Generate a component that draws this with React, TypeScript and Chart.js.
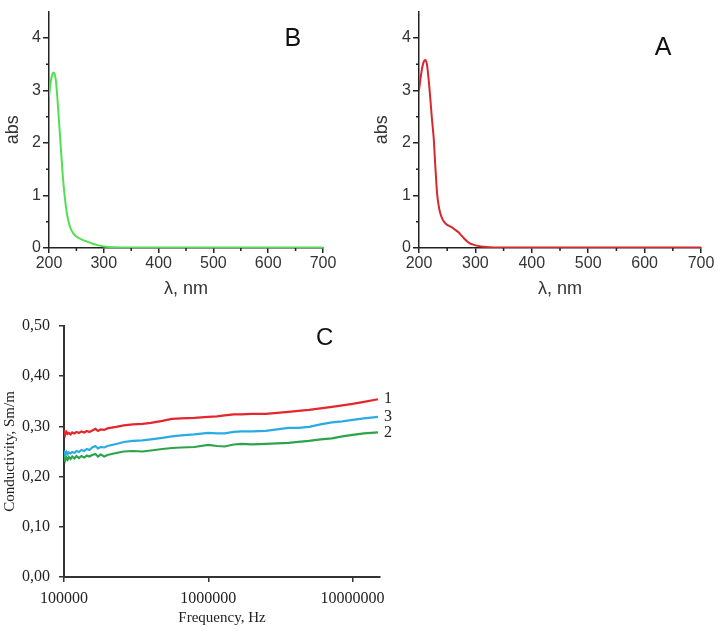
import React, { useEffect, useRef } from 'react';
import { Chart, registerables } from 'chart.js';
Chart.register(...registerables);

// ---------- Data ----------
const wavelengthB = [200, 203, 206, 208, 210, 213, 216, 219, 222, 225, 228, 231, 234, 237, 240, 245, 250, 260, 270, 280, 290, 300, 310, 320, 340, 360, 400, 450, 500, 550, 600, 650, 700];
const absB = [2.88, 3.15, 3.3, 3.34, 3.32, 3.15, 2.75, 2.3, 1.85, 1.4, 1.05, 0.78, 0.58, 0.45, 0.36, 0.27, 0.22, 0.16, 0.12, 0.08, 0.05, 0.03, 0.02, 0.015, 0.01, 0.01, 0.008, 0.008, 0.008, 0.008, 0.01, 0.01, 0.01];

const wavelengthA = [200, 203, 206, 209, 211, 214, 217, 220, 223, 226, 229, 232, 235, 238, 242, 246, 250, 255, 260, 265, 270, 275, 280, 285, 290, 295, 300, 310, 320, 340, 360, 400, 450, 500, 550, 600, 650, 700];
const absA = [3.0, 3.25, 3.45, 3.56, 3.58, 3.5, 3.22, 2.85, 2.45, 2.1, 1.55, 1.05, 0.8, 0.65, 0.54, 0.48, 0.44, 0.41, 0.38, 0.34, 0.3, 0.24, 0.18, 0.13, 0.09, 0.07, 0.05, 0.03, 0.02, 0.01, 0.01, 0.008, 0.008, 0.008, 0.008, 0.01, 0.01, 0.01];

const frequencyC = [100000, 102000, 104000, 106000, 108000, 111000, 114000, 118000, 122000, 127000, 132000, 138000, 144000, 150000, 157000, 165000, 172000, 180000, 190000, 200000, 230000, 260000, 300000, 350000, 400000, 480000, 560000, 650000, 800000, 1000000, 1150000, 1300000, 1500000, 1700000, 2000000, 2500000, 3000000, 3600000, 4200000, 5000000, 6000000, 7200000, 8500000, 10000000, 12000000, 15000000];
const conductivity1 = [0.293, 0.283, 0.289, 0.285, 0.287, 0.284, 0.288, 0.286, 0.289, 0.287, 0.29, 0.288, 0.291, 0.289, 0.292, 0.295, 0.291, 0.294, 0.293, 0.296, 0.299, 0.302, 0.304, 0.305, 0.307, 0.311, 0.315, 0.316, 0.317, 0.319, 0.32, 0.322, 0.324, 0.324, 0.325, 0.325, 0.327, 0.329, 0.331, 0.333, 0.336, 0.339, 0.342, 0.345, 0.349, 0.354];
const conductivity3 = [0.252, 0.243, 0.249, 0.245, 0.248, 0.246, 0.249, 0.247, 0.251, 0.249, 0.253, 0.251, 0.255, 0.253, 0.258, 0.261, 0.256, 0.259, 0.258, 0.261, 0.265, 0.269, 0.271, 0.272, 0.274, 0.277, 0.28, 0.282, 0.284, 0.287, 0.286, 0.286, 0.289, 0.29, 0.29, 0.291, 0.294, 0.297, 0.297, 0.299, 0.304, 0.308, 0.31, 0.313, 0.316, 0.319];
const conductivity2 = [0.241, 0.232, 0.238, 0.234, 0.239, 0.235, 0.24, 0.236, 0.241, 0.237, 0.241, 0.238, 0.242, 0.24, 0.243, 0.245, 0.24, 0.244, 0.24, 0.243, 0.247, 0.25, 0.251, 0.25, 0.252, 0.255, 0.257, 0.258, 0.259, 0.263, 0.261, 0.26, 0.264, 0.265, 0.264, 0.265, 0.266, 0.267, 0.269, 0.271, 0.274, 0.276, 0.28, 0.283, 0.286, 0.288];
const seriesLabelsC = ['1', '3', '2'];

const spectrumXTicks = [200, 300, 400, 500, 600, 700];
const spectrumXMinor = [250, 350, 450, 550, 650];
const spectrumYTicks = [0, 1, 2, 3, 4];
const spectrumYMinor = [0.5, 1.5, 2.5, 3.5];
const frequencyTicks = [100000, 1000000, 10000000];
const conductivityTicks = [0, 0.1, 0.2, 0.3, 0.4, 0.5];

const panelB = { text: 'B', x: 645, y: 3.98 };
const panelA = { text: 'A', x: 633, y: 3.81 };
const panelC = { text: 'C', x: 6400000, y: 0.476 };

const SANS = '"Liberation Sans", Arial, sans-serif';
const SERIF = '"Liberation Serif", "Times New Roman", serif';

// ---------- Plugins ----------
const minorTicksPlugin = (xMinor: number[], yMinor: number[], len: number, color: string, width: number) => ({
  id: 'minorTicks',
  afterDraw(chart: any) {
    const ctx = chart.ctx;
    const xs = chart.scales.x;
    const ys = chart.scales.y;
    ctx.save();
    ctx.strokeStyle = color;
    ctx.lineWidth = width;
    ctx.beginPath();
    xMinor.forEach((v) => {
      const px = xs.getPixelForValue(v);
      ctx.moveTo(px, ys.bottom);
      ctx.lineTo(px, ys.bottom + len);
    });
    yMinor.forEach((v) => {
      const py = ys.getPixelForValue(v);
      ctx.moveTo(xs.left, py);
      ctx.lineTo(xs.left - len, py);
    });
    ctx.stroke();
    ctx.restore();
  },
});

const panelLetterPlugin = (p: { text: string; x: number; y: number }, font: string) => ({
  id: 'panelLetter',
  afterDraw(chart: any) {
    const ctx = chart.ctx;
    ctx.save();
    ctx.font = font;
    ctx.fillStyle = '#111';
    ctx.textAlign = 'center';
    ctx.textBaseline = 'middle';
    ctx.fillText(p.text, chart.scales.x.getPixelForValue(p.x), chart.scales.y.getPixelForValue(p.y));
    ctx.restore();
  },
});

const endLabelsPlugin = (labels: string[]) => ({
  id: 'endLabels',
  afterDraw(chart: any) {
    const ctx = chart.ctx;
    ctx.save();
    ctx.font = `16px ${SERIF}`;
    ctx.fillStyle = '#222';
    ctx.textAlign = 'left';
    ctx.textBaseline = 'middle';
    labels.forEach((t, i) => {
      const pts = chart.getDatasetMeta(i).data;
      const last = pts[pts.length - 1];
      ctx.fillText(t, last.x + 6, last.y);
    });
    ctx.restore();
  },
});

// ---------- Config builders ----------
function spectrumConfig(xs: number[], ys: number[], color: string, yAxisWidth: number, yTitlePad: number, rightPad: number, letter: any) {
  return {
    type: 'line',
    data: {
      datasets: [
        {
          data: xs.map((x, i) => ({ x, y: ys[i] })),
          borderColor: color,
          borderWidth: 2,
          pointRadius: 0,
          cubicInterpolationMode: 'monotone',
          fill: false,
        },
      ],
    },
    options: {
      animation: false,
      responsive: false,
      layout: { padding: { top: 8, right: rightPad, left: 0, bottom: 0 } },
      plugins: { legend: { display: false }, tooltip: { enabled: false } },
      scales: {
        x: {
          type: 'linear',
          min: 200,
          max: 700,
          afterBuildTicks: (s: any) => {
            s.ticks = spectrumXTicks.map((value) => ({ value }));
          },
          afterFit: (s: any) => {
            s.height = 52;
          },
          ticks: { color: '#333', font: { family: SANS, size: 16 }, padding: 1, maxRotation: 0, autoSkip: false },
          grid: { drawOnChartArea: false, drawTicks: true, tickLength: 5, color: '#222', lineWidth: 1.5 },
          border: { display: true, color: '#222', width: 1.5 },
          title: { display: true, text: 'λ, nm', color: '#333', font: { family: SANS, size: 18 }, padding: { top: 0, bottom: 0 } },
        },
        y: {
          type: 'linear',
          min: 0,
          max: 4.5,
          afterBuildTicks: (s: any) => {
            s.ticks = spectrumYTicks.map((value) => ({ value }));
          },
          afterFit: (s: any) => {
            s.width = yAxisWidth;
          },
          ticks: { color: '#333', font: { family: SANS, size: 16 }, padding: 2 },
          grid: { drawOnChartArea: false, drawTicks: true, tickLength: 6, color: '#222', lineWidth: 1.5 },
          border: { display: true, color: '#222', width: 1.5 },
          title: { display: true, text: 'abs', color: '#333', font: { family: SANS, size: 18 }, padding: { top: yTitlePad, bottom: 0 } },
        },
      },
    },
    plugins: [minorTicksPlugin(spectrumXMinor, spectrumYMinor, 3, '#222', 1.5), panelLetterPlugin(letter, `25px ${SANS}`)],
  };
}

function conductivityConfig() {
  const mk = (vals: number[], color: string) => ({
    data: frequencyC.map((x, i) => ({ x, y: vals[i] })),
    borderColor: color,
    borderWidth: 2.2,
    pointRadius: 0,
    tension: 0,
    fill: false,
  });
  return {
    type: 'line',
    data: {
      datasets: [mk(conductivity1, '#E5262B'), mk(conductivity3, '#2AABE3'), mk(conductivity2, '#2DA44C')],
    },
    options: {
      animation: false,
      responsive: false,
      layout: { padding: { top: 36, right: 20, left: 0, bottom: 0 } },
      plugins: { legend: { display: false }, tooltip: { enabled: false } },
      scales: {
        x: {
          type: 'logarithmic',
          min: 100000,
          max: 15500000,
          afterBuildTicks: (s: any) => {
            s.ticks = frequencyTicks.map((value) => ({ value }));
          },
          afterFit: (s: any) => {
            s.height = 54;
          },
          ticks: {
            color: '#222',
            font: { family: SERIF, size: 16 },
            padding: 7,
            maxRotation: 0,
            autoSkip: false,
            callback: (v: any) => String(v),
          },
          grid: { drawOnChartArea: false, drawTicks: true, tickLength: 5, color: '#333', lineWidth: 1.5 },
          border: { display: true, color: '#333', width: 2 },
          title: { display: true, text: 'Frequency, Hz', color: '#222', font: { family: SERIF, size: 15 }, padding: { top: 0, bottom: 4 } },
        },
        y: {
          type: 'linear',
          min: 0,
          max: 0.5,
          afterBuildTicks: (s: any) => {
            s.ticks = conductivityTicks.map((value) => ({ value }));
          },
          afterFit: (s: any) => {
            s.width = 64;
          },
          ticks: {
            color: '#222',
            font: { family: SERIF, size: 16 },
            padding: 9,
            callback: (v: any) => Number(v).toFixed(2).replace('.', ','),
          },
          grid: { drawOnChartArea: false, drawTicks: true, tickLength: 5, color: '#333', lineWidth: 1.5 },
          border: { display: true, color: '#333', width: 2 },
          title: { display: true, text: 'Conductivity, Sm/m', color: '#222', font: { family: SERIF, size: 15 }, padding: { top: 1, bottom: 0 } },
        },
      },
    },
    plugins: [endLabelsPlugin(seriesLabelsC), panelLetterPlugin(panelC, `24px ${SANS}`)],
  };
}

// ---------- Components ----------
function ChartBox({ left, top, width, height, build }: { left: number; top: number; width: number; height: number; build: () => any }) {
  const ref = useRef<HTMLCanvasElement | null>(null);
  useEffect(() => {
    if (!ref.current) return;
    const chart = new Chart(ref.current, build());
    return () => chart.destroy();
  }, []);
  return (
    <canvas
      ref={ref}
      width={width}
      height={height}
      style={{ position: 'absolute', left, top, width, height }}
    />
  );
}

export default function App() {
  return (
    <div style={{ position: 'absolute', left: 0, top: 0, width: 724, height: 631, background: '#fff' }}>
      <ChartBox left={0} top={0} width={360} height={300} build={() => spectrumConfig(wavelengthB, absB, '#52E052', 49, 2, 37, panelB)} />
      <ChartBox left={360} top={0} width={364} height={300} build={() => spectrumConfig(wavelengthA, absA, '#D6282D', 59, 11, 23, panelA)} />
      <ChartBox left={0} top={290} width={400} height={341} build={conductivityConfig} />
    </div>
  );
}
